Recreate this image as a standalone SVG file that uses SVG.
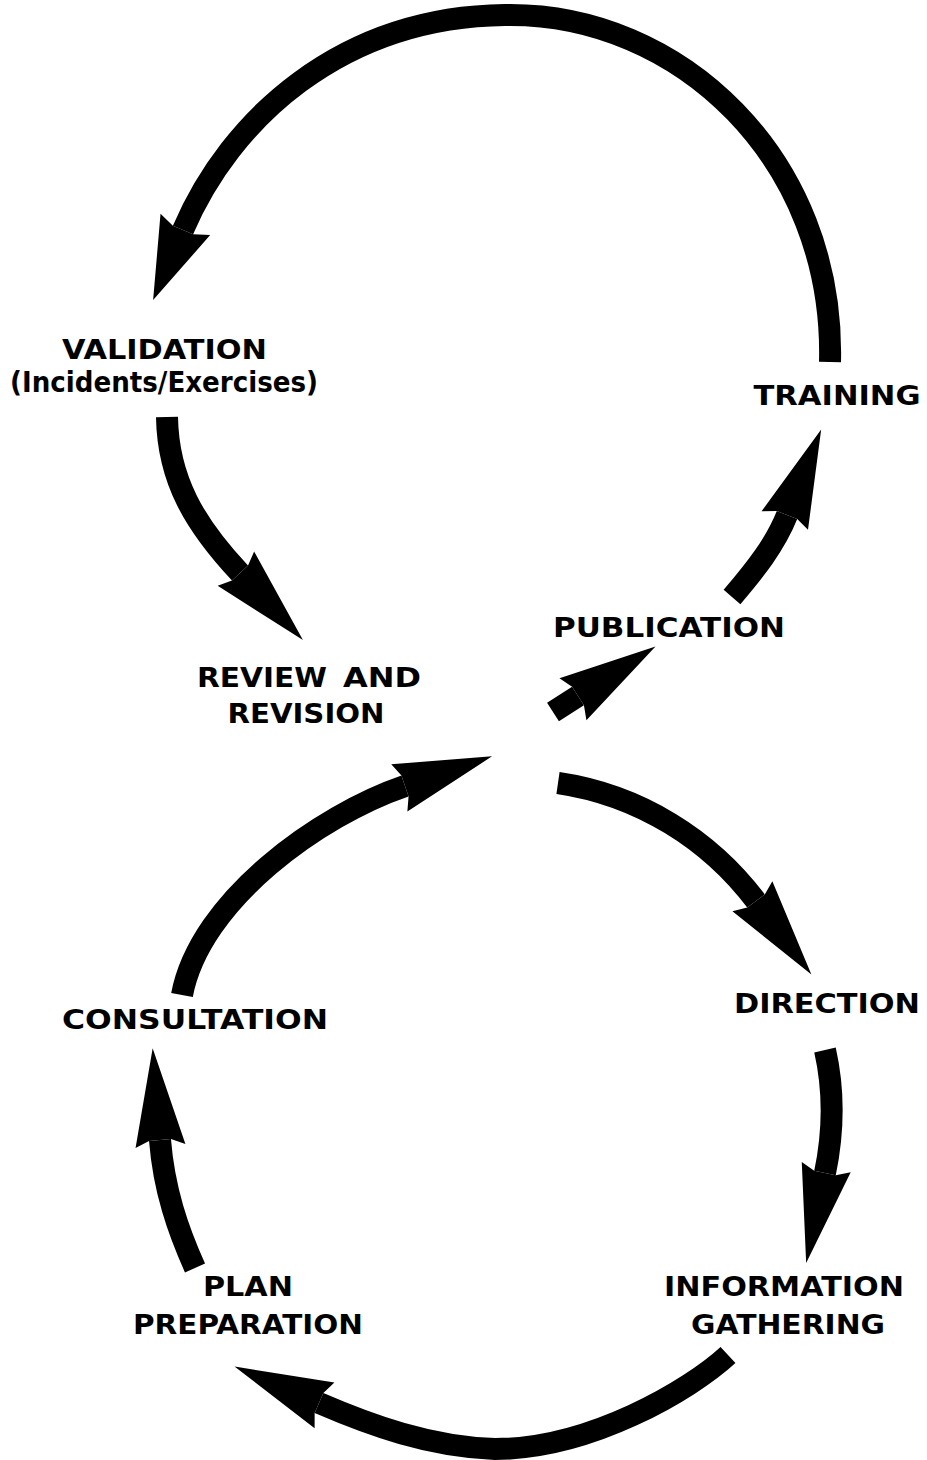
<svg xmlns="http://www.w3.org/2000/svg" width="927" height="1460" viewBox="0 0 927 1460">
<defs>
<style>
.lbl{font-family:"DejaVu Sans","Liberation Sans",sans-serif;font-weight:700;font-size:27px;fill:#000;text-anchor:middle}
.sub{font-size:28px}
.band{fill:none;stroke:#000;stroke-width:22;stroke-linecap:butt}
.hd{marker-end:url(#head)}
.hs{marker-end:url(#headS)}
</style>
<marker id="head" markerUnits="userSpaceOnUse" orient="auto" markerWidth="1" markerHeight="1" refX="0" refY="0" overflow="visible">
<path d="M -6 -25 L 92 0 L -6 25 L 0 11 L 0 -11 Z" fill="#000"/>
</marker>
<marker id="headS" markerUnits="userSpaceOnUse" orient="auto" markerWidth="1" markerHeight="1" refX="0" refY="0" overflow="visible">
<path d="M -6 -27 L 76 0 L -6 27 L 0 11 L 0 -11 Z" fill="#000"/>
</marker>
</defs>
<rect width="927" height="1460" fill="#fff"/>
<g id="connectors">
<path class="band hs" d="M 830 362 C 835 160 680 12 505 15 C 340 17 230 120 183 230"/>
<path class="band hd" d="M 167 417 C 168 480 195 525 240 573"/>
<path class="band hd" d="M 732 597 C 755 570 775 545 787 515"/>
<path class="band hd" d="M 553 712 L 578 696"/>
<path class="band hd" d="M 182 995 C 200 900 320 815 405 786"/>
<path class="band hd" d="M 558 783 C 640 795 710 840 756 901"/>
<path class="band hd" d="M 825 1050 C 834 1090 834 1130 825 1173"/>
<path class="band hd" d="M 728 1355 C 690 1390 590 1449 495 1449 C 430 1447 370 1425 319 1403"/>
<path class="band hd" d="M 195 1268 C 178 1230 164 1190 160 1140"/>
</g>
<g id="validation"><text class="lbl" x="164.5" y="359" textLength="205" lengthAdjust="spacingAndGlyphs">VALIDATION</text><text class="lbl sub" x="164" y="392" textLength="308" lengthAdjust="spacingAndGlyphs">(Incidents/Exercises)</text></g>
<g id="training"><text class="lbl" x="837" y="405" textLength="167" lengthAdjust="spacingAndGlyphs">TRAINING</text></g>
<g id="publication"><text class="lbl" x="669" y="637" textLength="232" lengthAdjust="spacingAndGlyphs">PUBLICATION</text></g>
<g id="review"><text class="lbl" x="262" y="687" textLength="130" lengthAdjust="spacingAndGlyphs">REVIEW</text><text class="lbl" x="382" y="687" textLength="78" lengthAdjust="spacingAndGlyphs">AND</text><text class="lbl" x="306" y="723" textLength="157" lengthAdjust="spacingAndGlyphs">REVISION</text></g>
<g id="direction"><text class="lbl" x="827" y="1013" textLength="186" lengthAdjust="spacingAndGlyphs">DIRECTION</text></g>
<g id="consultation"><text class="lbl" x="195" y="1029" textLength="266" lengthAdjust="spacingAndGlyphs">CONSULTATION</text></g>
<g id="information"><text class="lbl" x="784" y="1296" textLength="240" lengthAdjust="spacingAndGlyphs">INFORMATION</text><text class="lbl" x="788" y="1334" textLength="194" lengthAdjust="spacingAndGlyphs">GATHERING</text></g>
<g id="plan"><text class="lbl" x="248" y="1296" textLength="90" lengthAdjust="spacingAndGlyphs">PLAN</text><text class="lbl" x="248" y="1334" textLength="230" lengthAdjust="spacingAndGlyphs">PREPARATION</text></g>
</svg>
